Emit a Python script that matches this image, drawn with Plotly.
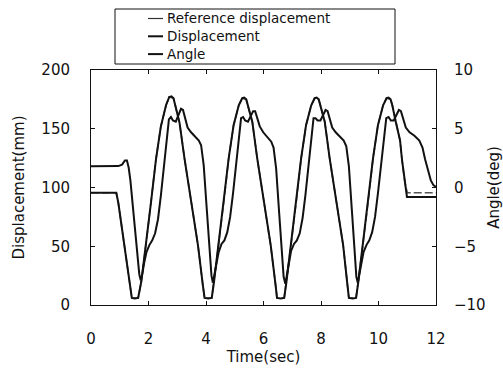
import plotly.graph_objects as go

# Displacement (mm) over time (s)
disp_t = [0.00, 0.45, 0.88, 0.95, 1.05, 1.15, 1.25, 1.32, 1.38, 1.42, 1.52, 1.64,
          1.75, 1.91, 2.09, 2.26, 2.43, 2.61, 2.72, 2.80, 2.87, 2.93, 3.08, 3.25,
          3.49, 3.72, 3.89, 3.95, 4.08, 4.20, 4.28, 4.44, 4.62, 4.79, 4.96, 5.14,
          5.26, 5.33, 5.40, 5.46, 5.61, 5.78, 6.02, 6.25, 6.42, 6.47, 6.60, 6.72,
          6.80, 6.96, 7.14, 7.31, 7.48, 7.66, 7.78, 7.85, 7.92, 7.98, 8.13, 8.30,
          8.54, 8.77, 8.92, 8.97, 9.10, 9.22, 9.30, 9.46, 9.64, 9.81, 9.98, 10.16,
          10.28, 10.35, 10.42, 10.48, 10.60, 10.75, 10.82, 10.92, 10.99, 11.50, 12.00]
disp_mm = [95.5, 95.4, 95.5, 87, 70, 52, 35, 21, 10, 6, 5.5, 6,
           20, 51, 88, 124, 152, 170, 177, 177.5, 176, 170, 155, 125,
           88, 51, 17, 6, 5.5, 6, 20, 52, 88, 125, 153, 170,
           176, 176.5, 175, 169, 156, 125, 88, 51, 17, 6, 5.5, 6,
           20, 52, 88, 125, 153, 170, 176, 176.5, 175, 170, 156, 125,
           88, 51, 17, 6, 5.5, 6, 20, 52, 88, 125, 153, 170,
           176, 176.5, 175, 170, 156, 140, 123, 104, 92, 92, 92]

# Reference displacement (mm)
ref_t = [0.00, 0.88, 0.95, 1.05, 1.15, 1.25, 1.32, 1.38, 1.42, 1.64,
         1.75, 1.91, 2.09, 2.26, 2.43, 2.61, 2.72, 2.87, 2.93, 3.08, 3.25,
         3.49, 3.72, 3.89, 3.95, 4.20, 4.28, 4.44, 4.62, 4.79, 4.96, 5.14,
         5.26, 5.40, 5.46, 5.61, 5.78, 6.02, 6.25, 6.42, 6.47, 6.72,
         6.80, 6.96, 7.14, 7.31, 7.48, 7.66, 7.78, 7.92, 7.98, 8.13, 8.30,
         8.54, 8.77, 8.92, 8.97, 9.22, 9.30, 9.46, 9.64, 9.81, 9.98, 10.16,
         10.28, 10.42, 10.48, 10.60, 10.75, 10.82, 10.92, 11.00, 12.00]
ref_mm = [95.5, 95.5, 87, 70, 52, 35, 21, 10, 6, 6,
          20, 51, 88, 124, 152, 170, 177, 176, 170, 155, 125,
          88, 51, 17, 6, 6, 20, 52, 88, 125, 153, 170,
          176, 175, 169, 156, 125, 88, 51, 17, 6, 6,
          20, 52, 88, 125, 153, 170, 176, 175, 170, 156, 125,
          88, 51, 17, 6, 6, 20, 52, 88, 125, 153, 170,
          176, 175, 170, 156, 140, 123, 104, 95.5, 95.5]

# Angle (deg) over time (s)
ang_t = [0.00, 0.50, 0.95, 1.08, 1.18, 1.25, 1.31, 1.37, 1.43, 1.50, 1.57, 1.63, 1.68, 1.73,
         1.79, 1.85, 1.93, 2.03, 2.13, 2.23, 2.33, 2.43, 2.53, 2.63, 2.71, 2.78, 2.85, 2.95,
         3.03, 3.13, 3.20, 3.28, 3.36, 3.48, 3.63, 3.75, 3.83, 3.92, 4.02, 4.12, 4.19, 4.24,
         4.30, 4.36, 4.44, 4.54, 4.64, 4.74, 4.84, 4.94, 5.04, 5.14, 5.22, 5.29, 5.36, 5.46,
         5.54, 5.64, 5.71, 5.79, 5.87, 5.99, 6.14, 6.27, 6.35, 6.44, 6.54, 6.63, 6.70, 6.76,
         6.82, 6.88, 6.96, 7.06, 7.16, 7.26, 7.36, 7.46, 7.56, 7.66, 7.74, 7.81, 7.88, 7.98,
         8.06, 8.16, 8.23, 8.31, 8.39, 8.51, 8.66, 8.79, 8.88, 8.97, 9.07, 9.16, 9.23, 9.28,
         9.34, 9.40, 9.48, 9.58, 9.68, 9.78, 9.88, 9.98, 10.08, 10.18, 10.27, 10.35, 10.43, 10.53,
         10.62, 10.71, 10.78, 10.86, 10.95, 11.08, 11.25, 11.42, 11.53, 11.62, 11.72, 11.82, 11.91, 12.00]
ang_deg = [1.80, 1.78, 1.82, 1.95, 2.30, 2.30, 1.70, 0.60, -0.90, -2.80, -4.80, -6.40, -7.40, -7.90,
           -7.3, -6.4, -5.5, -4.9, -4.5, -3.9, -2.7, -0.7, 1.7, 4.1, 5.8, 6.0, 5.7, 5.6,
           6.1, 6.7, 6.6, 5.9, 5.1, 4.7, 4.3, 4.0, 3.6, 1.9, -1.6, -5.4, -7.5, -8.1,
           -7.4, -6.5, -5.5, -4.8, -4.5, -3.8, -2.5, -0.5, 1.9, 4.3, 5.9, 6.0, 5.7, 5.6,
           6.0, 6.5, 6.5, 5.9, 5.2, 4.7, 4.3, 3.9, 3.4, 1.6, -2.0, -5.6, -7.6, -8.2,
           -7.4, -6.4, -5.4, -4.8, -4.5, -3.9, -2.6, -0.6, 1.8, 4.2, 5.9, 5.9, 5.7, 5.7,
           6.1, 6.6, 6.5, 5.8, 5.1, 4.7, 4.3, 4.0, 3.5, 1.8, -1.8, -5.5, -7.6, -8.1,
           -7.3, -6.4, -5.5, -4.9, -4.5, -3.8, -2.5, -0.5, 1.9, 4.2, 5.9, 6.0, 5.7, 5.7,
           6.1, 6.6, 6.5, 5.9, 5.1, 4.7, 4.4, 4.0, 3.4, 2.4, 1.4, 0.6, 0.2, 0.05]

legend_names = ["Reference displacement", "Displacement", "Angle"]

x_ticks = [0, 2, 4, 6, 8, 10, 12]
y_ticks = [0, 50, 100, 150, 200]
y2_ticks = [-10, -5, 0, 5, 10]

FONT = "DejaVu Sans"
INK = "#111111"
W, H = 503, 372
ML, MR, MT, MB = 91, 67, 70, 67
PW, PH = W - ML - MR, H - MT - MB


def px_x(p):
    return (p - ML) / PW


def px_y(p):
    return (H - MB - p) / PH


fig = go.Figure()
fig.add_trace(go.Scatter(x=ref_t, y=ref_mm, mode="lines", name=legend_names[0],
                         line=dict(color="#555555", width=1.6, dash="8px,3px"),
                         showlegend=False))
fig.add_trace(go.Scatter(x=disp_t, y=disp_mm, mode="lines", name=legend_names[1],
                         line=dict(color=INK, width=2), showlegend=False))
fig.add_trace(go.Scatter(x=ang_t, y=ang_deg, mode="lines", name=legend_names[2],
                         yaxis="y2", line=dict(color=INK, width=2),
                         showlegend=False))

axis_common = dict(showline=True, linecolor=INK, linewidth=1, ticks="inside",
                   ticklen=4, tickcolor=INK, showgrid=False, zeroline=False,
                   automargin=False,
                   tickfont=dict(family=FONT, size=15, color=INK))
title_font = dict(family=FONT, size=15, color=INK)

fig.update_layout(
    width=W, height=H,
    margin=dict(l=ML, r=MR, t=MT, b=MB),
    paper_bgcolor="white", plot_bgcolor="white",
    xaxis=dict(range=[0, 12], tickvals=x_ticks, mirror="ticks",
               ticklabelstandoff=20,
               title=dict(text="Time(sec)", standoff=3, font=title_font),
               **axis_common),
    yaxis=dict(range=[0, 200], tickvals=y_ticks, mirror="ticks",
               ticklabelstandoff=17,
               title=dict(text="Displacement(mm)", standoff=13, font=title_font),
               **axis_common),
    yaxis2=dict(range=[-10, 10], tickvals=y2_ticks, overlaying="y", side="right",
                ticklabelstandoff=14,
                title=dict(text="Angle(deg)", standoff=12, font=title_font),
                **axis_common),
)

# Legend box with line samples
rows = [18.5, 36.3, 54.1]
styles = [dict(color="#333333", width=1.2), dict(color=INK, width=2),
          dict(color=INK, width=2)]
fig.add_shape(type="rect", xref="paper", yref="paper",
              x0=px_x(115), x1=px_x(395), y0=px_y(64), y1=px_y(9),
              line=dict(color=INK, width=1), fillcolor="white", layer="above")
for name, r, st in zip(legend_names, rows, styles):
    fig.add_shape(type="line", xref="paper", yref="paper",
                  x0=px_x(148), x1=px_x(163), y0=px_y(r), y1=px_y(r), line=st)
    fig.add_annotation(xref="paper", yref="paper", x=px_x(166), y=px_y(r),
                       xanchor="left", yanchor="middle", text=name, showarrow=False,
                       borderpad=0, font=dict(family=FONT, size=13.5, color=INK))

fig.write_html("out.html")
